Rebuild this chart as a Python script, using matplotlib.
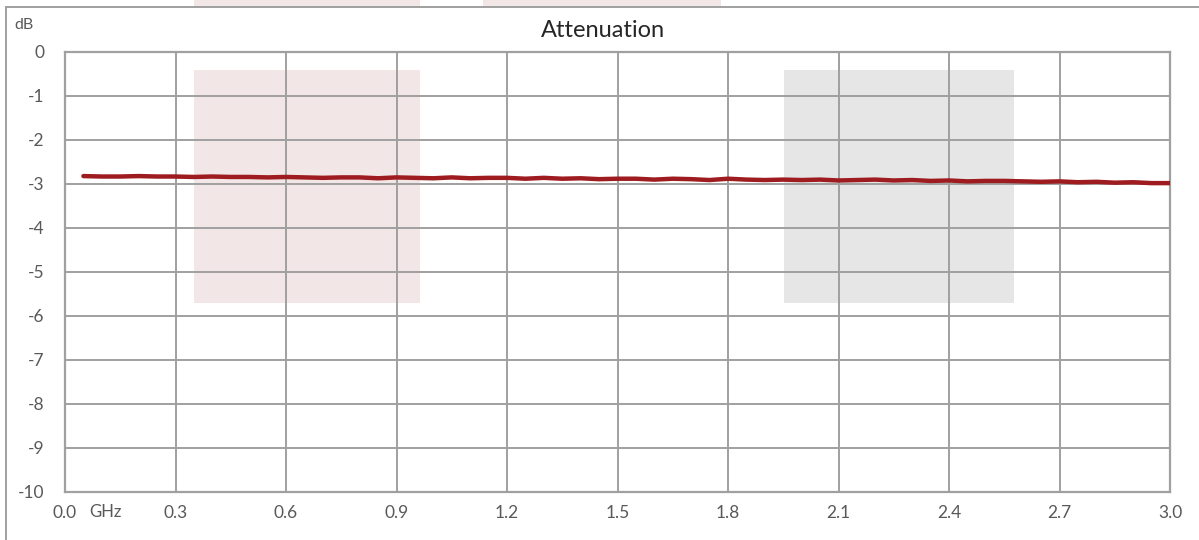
import numpy as np
import matplotlib.pyplot as plt
from matplotlib.patches import Rectangle

plt.rcParams['font.family'] = ['Lato', 'DejaVu Sans']
plt.rcParams['axes.unicode_minus'] = False

# frequency (GHz) and measured attenuation (dB)
freq = [0.05, 0.10, 0.15, 0.20, 0.25, 0.30, 0.35, 0.40, 0.45, 0.50,
        0.55, 0.60, 0.65, 0.70, 0.75, 0.80, 0.85, 0.90, 0.95, 1.00,
        1.05, 1.10, 1.15, 1.20, 1.25, 1.30, 1.35, 1.40, 1.45, 1.50,
        1.55, 1.60, 1.65, 1.70, 1.75, 1.80, 1.85, 1.90, 1.95, 2.00,
        2.05, 2.10, 2.15, 2.20, 2.25, 2.30, 2.35, 2.40, 2.45, 2.50,
        2.55, 2.60, 2.65, 2.70, 2.75, 2.80, 2.85, 2.90, 2.95, 3.00]
atten = [-2.82, -2.83, -2.83, -2.82, -2.83, -2.83, -2.84, -2.83, -2.84, -2.84,
         -2.85, -2.84, -2.85, -2.86, -2.85, -2.85, -2.87, -2.85, -2.86, -2.87,
         -2.85, -2.87, -2.86, -2.86, -2.88, -2.86, -2.88, -2.87, -2.89, -2.88,
         -2.88, -2.90, -2.88, -2.89, -2.91, -2.88, -2.90, -2.91, -2.90, -2.91,
         -2.90, -2.92, -2.91, -2.90, -2.92, -2.91, -2.93, -2.92, -2.94, -2.93,
         -2.93, -2.94, -2.95, -2.94, -2.96, -2.95, -2.97, -2.96, -2.98, -2.98]

xticks = [0.0, 0.3, 0.6, 0.9, 1.2, 1.5, 1.8, 2.1, 2.4, 2.7, 3.0]
yticks = [0, -1, -2, -3, -4, -5, -6, -7, -8, -9, -10]

grey = '#A0A0A0'
txt = '#595959'

fig = plt.figure(figsize=(11.99, 5.40), dpi=100)
ax = fig.add_axes([65/1199, 48/540, 1105/1199, 440/540])

# faded boxes behind the plot
ax.add_patch(Rectangle((0.35, -5.70), 0.614, 5.29, facecolor='#F3E6E6', edgecolor='none', zorder=0))
ax.add_patch(Rectangle((1.952, -5.70), 0.625, 5.29, facecolor='#E6E6E6', edgecolor='none', zorder=0))

ax.plot(freq, atten, color='#9E1B20', lw=3.2, zorder=3, solid_capstyle='round')

ax.set_xlim(0, 3.0)
ax.set_ylim(-10, 0)
ax.set_xticks(xticks)
ax.set_xticklabels([f'{t:.1f}' for t in xticks])
ax.set_yticks(yticks)
ax.grid(True, color=grey, lw=1.4, zorder=1)
ax.set_axisbelow(False)
for s in ax.spines.values():
    s.set_color(grey)
    s.set_linewidth(1.6)
ax.tick_params(length=0, colors=txt, labelsize=12.5)
ax.tick_params(axis='x', pad=9)
ax.tick_params(axis='y', pad=15)

fig.text(89/1199, 1 - 512/540, 'GHz', color=txt, fontsize=12, va='center')
fig.text(14/1199, 1 - 25/540, 'dB', color=txt, fontsize=11.5, va='center')
fig.text(603/1199, 1 - 31/540, 'Attenuation', color='#262626', fontsize=17, ha='center', va='center')

# outer frame and the faded shapes above it
fig.patches.append(Rectangle((6/1199, -0.05), 1.1, 1 - 7/540 + 0.05, transform=fig.transFigure,
                             fill=False, edgecolor=grey, lw=1.4))
fig.patches.append(Rectangle((194/1199, 1 - 7/540), 226/1199, 7/540, transform=fig.transFigure,
                             facecolor='#F3E6E6', edgecolor='none', zorder=-1))
fig.patches.append(Rectangle((483/1199, 1 - 7/540), 238/1199, 7/540, transform=fig.transFigure,
                             facecolor='#F3E6E6', edgecolor='none', zorder=-1))

fig.savefig('out.png', dpi=100)
